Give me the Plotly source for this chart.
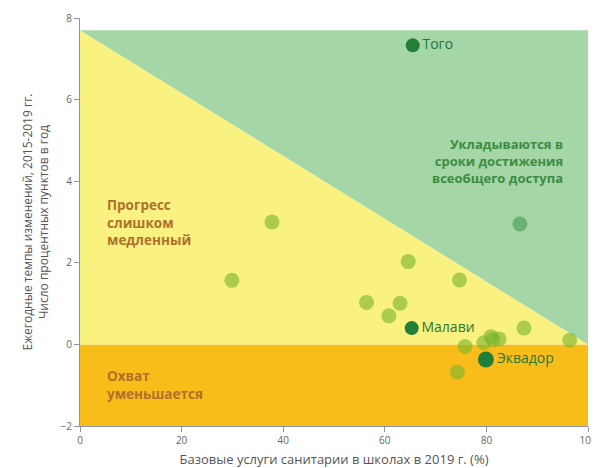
import plotly.graph_objects as go

# Data: basic sanitation in schools 2019 (%) vs annual rate of change 2015-2019
other_x = [37.8, 29.9, 64.6, 74.7, 56.4, 63.0, 60.8, 87.4, 80.9, 82.5, 79.5, 81.3, 96.4, 75.8, 74.3]
other_y = [3.00, 1.57, 2.03, 1.58, 1.03, 1.01, 0.70, 0.40, 0.19, 0.13, 0.04, 0.12, 0.10, -0.05, -0.68]

ontrack_x = [86.6]
ontrack_y = [2.95]

named_countries = ["Того", "Малави", "Эквадор"]
named_x = [65.5, 65.3, 79.9]
named_y = [7.33, 0.40, -0.37]
named_sizes = [14, 14, 16]

# Region thresholds
y_min, y_max = -2, 8
needed_rate_at_zero = 7.7   # rate needed from 0% to reach 100%
x_full = 100

x_ticks = [0, 20, 40, 60, 80, 100]
y_ticks = [-2, 0, 2, 4, 6, 8]

FONT = "Open Sans"
fig = go.Figure()

# regions
fig.add_trace(go.Scatter(x=[0, x_full, x_full, 0], y=[y_min, y_min, 0, 0], fill="toself",
                         fillcolor="#f9bd19", line=dict(width=0), mode="lines", hoverinfo="skip", showlegend=False))
fig.add_trace(go.Scatter(x=[0, x_full, 0], y=[0, 0, needed_rate_at_zero], fill="toself",
                         fillcolor="#f9f281", line=dict(width=0), mode="lines", hoverinfo="skip", showlegend=False))
fig.add_trace(go.Scatter(x=[0, x_full, x_full], y=[needed_rate_at_zero, needed_rate_at_zero, 0], fill="toself",
                         fillcolor="#a4d6a8", line=dict(width=0), mode="lines", hoverinfo="skip", showlegend=False))

# points
fig.add_trace(go.Scatter(x=other_x, y=other_y, mode="markers",
                         marker=dict(size=15, color="rgba(125,180,45,0.62)", line=dict(width=0)),
                         showlegend=False))
fig.add_trace(go.Scatter(x=ontrack_x, y=ontrack_y, mode="markers",
                         marker=dict(size=15, color="rgba(60,150,70,0.55)", line=dict(width=0)),
                         showlegend=False))
fig.add_trace(go.Scatter(x=named_x, y=named_y, mode="markers+text", text=named_countries,
                         textposition="middle right",
                         textfont=dict(family=FONT, size=14, color="#26773a"),
                         marker=dict(size=named_sizes, color="#237f37", opacity=1, line=dict(width=0)),
                         showlegend=False))

# region labels
fig.add_annotation(x=5, y=3.0, xref="x", yref="y", text="<b>Прогресс<br>слишком<br>медленный</b>",
                   showarrow=False, xanchor="left", yanchor="middle", align="left",
                   font=dict(family=FONT, size=13.5, color="#ad712b"))
fig.add_annotation(x=5, y=-1.0, xref="x", yref="y", text="<b>Охват<br>уменьшается</b>",
                   showarrow=False, xanchor="left", yanchor="middle", align="left",
                   font=dict(family=FONT, size=13.5, color="#ad712b"))
fig.add_annotation(x=95.5, y=4.5, xref="x", yref="y", text="<b>Укладываются в<br>сроки достижения<br>всеобщего доступа</b>",
                   showarrow=False, xanchor="right", yanchor="middle", align="right",
                   font=dict(family=FONT, size=13, color="#3c8c41"))

axis_common = dict(showgrid=False, zeroline=False, showline=True, linecolor="#8d92ae", linewidth=1,
                   ticks="outside", ticklen=5, tickcolor="#8d92ae", automargin=False,
                   tickfont=dict(family=FONT, size=10, color="#666"))
fig.update_xaxes(range=[0, 100], tickvals=x_ticks,
                 title=dict(text="Базовые услуги санитарии в школах в 2019 г. (%)",
                            font=dict(family=FONT, size=13, color="#555"), standoff=8),
                 **axis_common)
fig.update_yaxes(range=[y_min, y_max], tickvals=y_ticks,
                 title=dict(text="Ежегодные темпы изменений, 2015-2019 гг.<br>Число процентных пунктов в год",
                            font=dict(family=FONT, size=12, color="#555"), standoff=9),
                 **axis_common)

# page has an 8px body margin, so the figure is sized to fit the window
fig.update_layout(width=591, height=460, margin=dict(l=72, r=11, t=10, b=42),
                  plot_bgcolor="white", paper_bgcolor="white",
                  font=dict(family=FONT))

fig.write_html("out.html")
